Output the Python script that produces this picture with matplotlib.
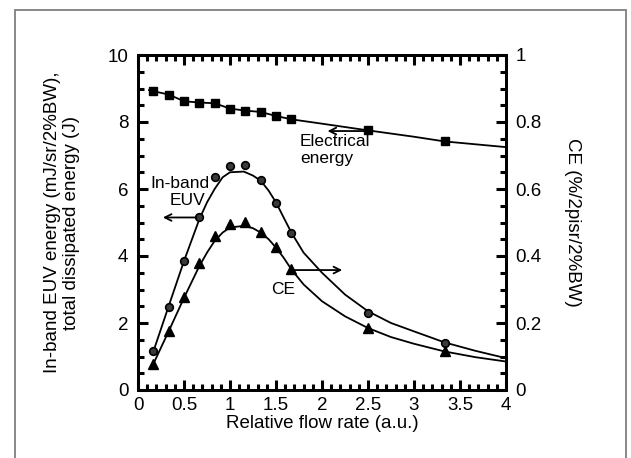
import matplotlib
matplotlib.use("Agg")
import matplotlib.pyplot as plt
from matplotlib.patches import Rectangle
from matplotlib.ticker import MultipleLocator, FuncFormatter

plt.rcParams['font.family'] = ['Liberation Sans', 'DejaVu Sans']

# ---- data ----
flow = [0.167, 0.333, 0.5, 0.667, 0.833, 1.0, 1.167, 1.333, 1.5, 1.667, 2.5, 3.333]
electrical = [8.92, 8.82, 8.62, 8.58, 8.56, 8.40, 8.34, 8.30, 8.18, 8.08, 7.75, 7.42]
euv = [1.15, 2.49, 3.85, 5.17, 6.35, 6.70, 6.72, 6.27, 5.59, 4.68, 2.31, 1.41]
ce = [0.078, 0.177, 0.279, 0.378, 0.46, 0.496, 0.502, 0.473, 0.428, 0.36, 0.184, 0.116]

# fitted curves (knots)
fit_x = [0.167, 0.333, 0.5, 0.667, 0.75, 0.833, 0.92, 1.0, 1.15, 1.25, 1.333, 1.42,
         1.5, 1.583, 1.667, 1.8, 2.0, 2.25, 2.5, 2.75, 3.0, 3.333, 3.667, 4.0]
fit_euv = [1.15, 2.5, 3.85, 5.1, 5.6, 6.0, 6.35, 6.5, 6.52, 6.4, 6.25, 5.95,
           5.6, 5.15, 4.7, 4.1, 3.5, 2.85, 2.35, 2.0, 1.75, 1.42, 1.17, 0.95]
fit_ce = [0.078, 0.175, 0.275, 0.37, 0.41, 0.445, 0.47, 0.485, 0.49, 0.483, 0.47, 0.45,
          0.425, 0.395, 0.36, 0.315, 0.265, 0.22, 0.185, 0.158, 0.138, 0.115, 0.098, 0.085]
fit_el_x = [0.12, 0.167, 0.333, 0.5, 0.667, 0.833, 1.0, 1.167, 1.333, 1.5, 1.667, 2.0,
            2.5, 3.0, 3.333, 4.0]
fit_el = [8.95, 8.92, 8.82, 8.62, 8.58, 8.56, 8.40, 8.34, 8.30, 8.18, 8.08, 7.95,
          7.75, 7.56, 7.42, 7.25]

fig = plt.figure(figsize=(6.31, 4.58), dpi=100)
fig.patches.append(Rectangle((15/631, -0.02), 611/631, (458-10)/458 + 0.02,
                             transform=fig.transFigure, fill=False,
                             edgecolor='#7f7f7f', linewidth=1.3))

ax = fig.add_axes([138/631, 1-390/458, 368/631, 335/458])
ax2 = ax.twinx()

lw_spine = 2.0
for a in (ax, ax2):
    for s in a.spines.values():
        s.set_linewidth(lw_spine)

ax.set_xlim(0, 4)
ax.set_ylim(0, 10)
ax2.set_ylim(0, 1)

ax.plot(fit_el_x, fit_el, color='black', lw=1.3)
ax.plot(fit_x, fit_euv, color='black', lw=1.3)
ax2.plot(fit_x, fit_ce, color='black', lw=1.3)

ax.plot(flow, electrical, 's', color='black', ms=6, mec='black')
ax.plot(flow, euv, 'o', mfc='#3a3a3a', mec='black', ms=5.5, mew=1.2)
ax2.plot(flow, ce, '^', color='black', ms=7)

# ticks
fmt = FuncFormatter(lambda v, p: ('%g' % round(v, 3)))
ax.xaxis.set_major_locator(MultipleLocator(0.5))
ax.xaxis.set_minor_locator(MultipleLocator(0.1))
ax.yaxis.set_major_locator(MultipleLocator(2))
ax.yaxis.set_minor_locator(MultipleLocator(0.5))
ax2.yaxis.set_major_locator(MultipleLocator(0.2))
ax2.yaxis.set_minor_locator(MultipleLocator(0.05))
ax.xaxis.set_major_formatter(fmt)
ax.yaxis.set_major_formatter(fmt)
ax2.yaxis.set_major_formatter(fmt)

ax.tick_params(axis='x', which='both', direction='in', top=True, labelsize=13.5, pad=5)
ax.tick_params(axis='y', which='both', direction='in', right=False, labelsize=13.5, pad=7)
ax2.tick_params(axis='y', which='both', direction='in', labelsize=13.5, pad=7)
for a in (ax, ax2):
    a.tick_params(which='major', length=7, width=2.2)
    a.tick_params(which='minor', length=4, width=2.2)

ax.set_xlabel('Relative flow rate (a.u.)', fontsize=13.5, labelpad=1)
ax.set_ylabel('In-band EUV energy (mJ/sr/2%BW),\ntotal dissipated energy (J)',
              fontsize=13.5, labelpad=20, linespacing=1.1)
ax2.set_ylabel('CE (%/2pisr/2%BW)', fontsize=13.5, rotation=-90, labelpad=28)

# annotations
arr = dict(arrowstyle='->', color='black', lw=1.3, mutation_scale=12)
ax.annotate('', xy=(2.03, 7.73), xytext=(2.5, 7.73), arrowprops=arr)
ax.annotate('', xy=(0.24, 5.15), xytext=(0.667, 5.15), arrowprops=arr)
ax.annotate('', xy=(2.25, 3.58), xytext=(1.667, 3.58), arrowprops=arr)

ax.text(1.76, 7.16, 'Electrical\nenergy', fontsize=12.5, ha='left', va='center', linespacing=1.15)
ax.text(0.46, 6.17, 'In-band', fontsize=12.5, ha='center', va='center')
ax.text(0.54, 5.67, 'EUV', fontsize=12.5, ha='center', va='center')
ax.text(1.58, 2.99, 'CE', fontsize=12.5, ha='center', va='center')

fig.savefig('out.png', dpi=100)
